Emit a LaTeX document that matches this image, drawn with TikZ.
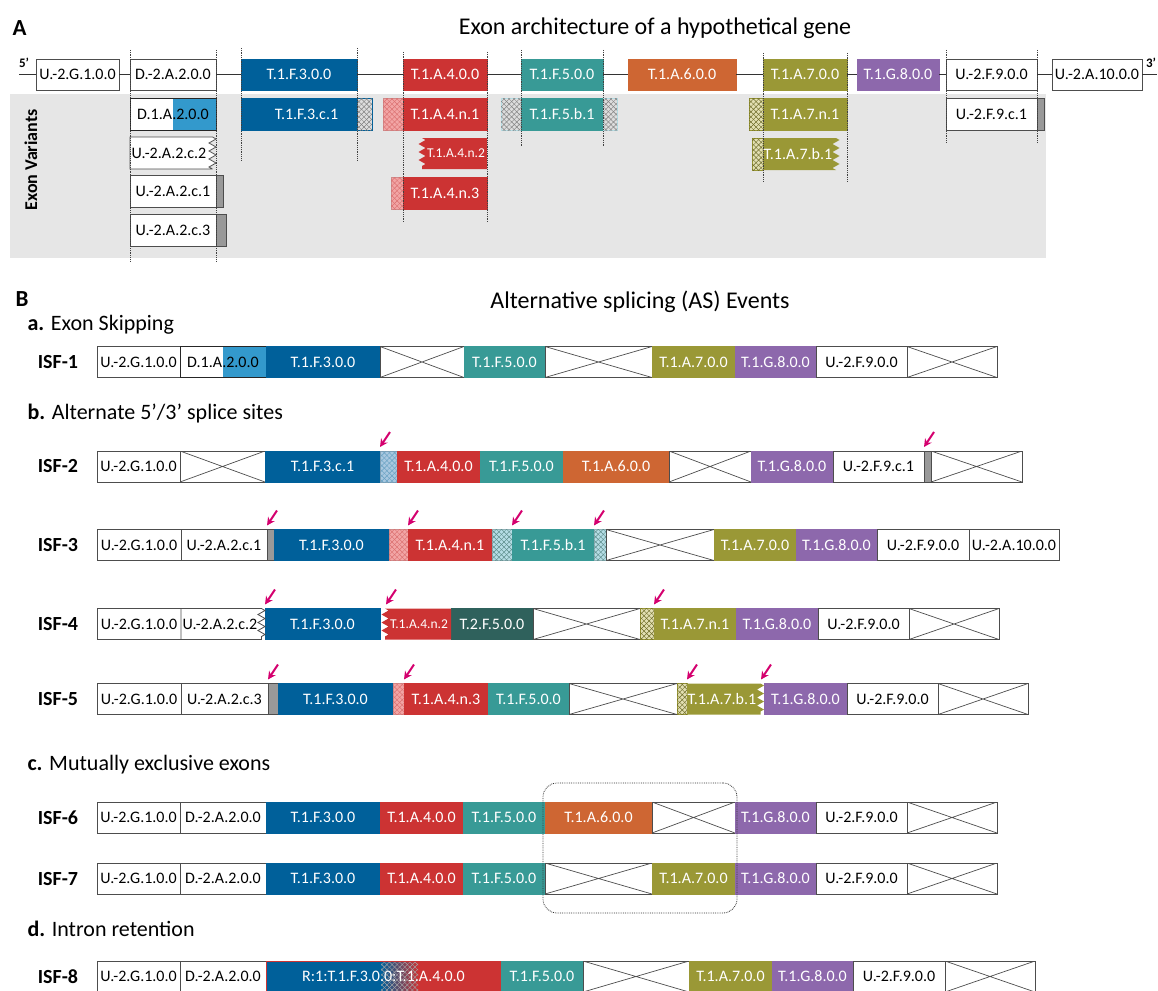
\documentclass[tikz,border=0pt]{standalone}
\usepackage{fontspec}
\setmainfont{Carlito}
\usepackage{tikz}
\usetikzlibrary{arrows.meta,patterns.meta,decorations.pathmorphing,fit}
\definecolor{tblue}{HTML}{00609A}
\definecolor{lblue}{HTML}{3399CC}
\definecolor{tred}{HTML}{CC3333}
\definecolor{tteal}{HTML}{389A96}
\definecolor{torange}{HTML}{CE6633}
\definecolor{tolive}{HTML}{9A9836}
\definecolor{tpurple}{HTML}{8D68AC}
\definecolor{dteal}{HTML}{2F615C}
\definecolor{ubar}{HTML}{999999}
\definecolor{edge}{HTML}{4D4D4D}
\definecolor{bandgray}{HTML}{E6E6E6}
\definecolor{arrowc}{HTML}{D4006E}
\definecolor{pinkh}{HTML}{F2A5A5}
\definecolor{cyanh}{HTML}{B5DDE5}
\definecolor{blueh}{HTML}{A9C8E0}
\definecolor{oliveh}{HTML}{E2DFB2}
\definecolor{greyh}{HTML}{DDDDDD}
\newcommand\lblfont{\fontsize{16}{17}\selectfont}
\tikzset{
  seg/.style={rectangle,anchor=west,minimum height=31pt,inner sep=0pt,outer sep=0pt,line width=.8pt,font=\lblfont},
  wseg/.style={fill=white,draw=edge},
  xseg/.style={fill=white,draw=edge,path picture={\draw[edge,line width=.7pt](path picture bounding box.north west)--(path picture bounding box.south east)(path picture bounding box.south west)--(path picture bounding box.north east);}},
  bseg/.style={fill=tblue,draw=tblue,text=white},
  rseg/.style={fill=tred,draw=tred,text=white},
  tseg/.style={fill=tteal,draw=tteal,text=white},
  oseg/.style={fill=torange,draw=torange,text=white},
  vseg/.style={fill=tolive,draw=tolive,text=white},
  pseg/.style={fill=tpurple,draw=tpurple,text=white},
  dtseg/.style={fill=dteal,draw=dteal,text=white},
  gbar/.style={fill=ubar,draw=edge},
  xhatch/.style={postaction={pattern={Lines[angle=45,distance=3.6pt,line width=.45pt]},pattern color=#1},
    postaction={pattern={Lines[angle=-45,distance=3.6pt,line width=.45pt]},pattern color=#1}},
  hpink/.style={fill=pinkh,draw=pinkh!85!black,xhatch=tred!70},
  hcyan/.style={fill=cyanh,draw=cyanh!80!black,xhatch=tteal!50!gray},
  hblue/.style={fill=blueh,draw=blueh!80!black,xhatch=tblue!60},
  holive/.style={fill=oliveh,draw=tolive,xhatch=tolive!70!black},
  hgrey/.style={fill=greyh,draw=gray,xhatch=gray},
  halfseg/.style={fill=white,draw=black!85,path picture={\fill[lblue]([xshift=-43pt]path picture bounding box.south east) rectangle (path picture bounding box.north east);}},
  irseg/.style={fill=tred,draw=tred,text=white,path picture={
    \fill[tblue](path picture bounding box.south west) rectangle ([xshift=115pt]path picture bounding box.north west);
    \shade[left color=tblue,right color=tred]([xshift=115pt]path picture bounding box.south west) rectangle ([xshift=152pt]path picture bounding box.north west);
    \path[xhatch=black!35]([xshift=115pt]path picture bounding box.south west) rectangle ([xshift=152pt]path picture bounding box.north west);}},
  zz/.style={decoration={zigzag,segment length=8pt,amplitude=3.5pt}},
  gline/.style={draw=black!80,line width=.8pt},
  vdot/.style={densely dotted,draw=black!75,line width=.8pt},
  splarr/.style={draw=arrowc,line width=2pt,-{Stealth[length=8pt,width=8pt]}},
  isf/.style={font=\fontsize{20}{22}\selectfont\bfseries},
  head/.style={anchor=west,font=\fontsize{22}{24}\selectfont},
  mxbox/.style={draw=black!80,densely dotted,line width=.8pt,rounded corners=14pt},
}
\newcommand\isfrow[4]{%
  \node[isf] (#1) at (58,#3) {#2};
  \foreach \xa/\xb/\kd/\lab [count=\i] in {#4}
    \node[seg,\kd,minimum width=\xb pt-\xa pt] (#1-\i) at (\xa,#3) {\lab};
}
\newcommand\splice[1]{\draw[splarr]([shift={(10,-19)}]#1)--([shift={(0,-4)}]#1);}

\begin{document}
\begin{tikzpicture}[x=1pt,y=-1pt]
\useasboundingbox (0,0) rectangle (1158,990);
%panel A
\node[anchor=west,font=\fontsize{23}{26}\selectfont\bfseries] (lA) at (9,28) {A};
\node[font=\fontsize{24}{26}\selectfont] (tA) at (655,28) {Exon architecture of a hypothetical gene};
\fill[bandgray] (10,94) rectangle (1046,258);
\node[font=\fontsize{18}{19}\selectfont\bfseries,rotate=90] (ev) at (31,160) {Exon Variants};
%gene
\foreach \xa/\xb/\kd/\lab [count=\i] in {36/119/wseg/U.-2.G.1.0.0,130/216/wseg/D.-2.A.2.0.0,241/357/bseg/T.1.F.3.0.0,403/487/rseg/T.1.A.4.0.0,521/603/tseg/T.1.F.5.0.0,628/736/oseg/T.1.A.6.0.0,763/847/vseg/T.1.A.7.0.0,857/939/pseg/T.1.G.8.0.0,946/1037/wseg/U.-2.F.9.0.0,1052/1142/wseg/U.-2.A.10.0.0}
  \node[seg,\kd,minimum width=\xb pt-\xa pt] (g\i) at (\xa,74.5) {\lab};
\coordinate (p5) at (19,74.5);
\coordinate (p3) at (1157,74.5);
\draw[gline] (p5)--(g1.west);
\foreach \i [evaluate=\i as \j using int(\i+1)] in {1,...,9}
  \draw[gline] (g\i.east)--(g\j.west);
\draw[gline] (g10.east)--(p3);
\node[font=\fontsize{13}{14}\selectfont\bfseries] (q5) at (24,63) {5’};
\node[font=\fontsize{13}{14}\selectfont\bfseries] (q3) at (1151,63) {3’};
%variants, row 1
\node[seg,halfseg,minimum height=32pt,minimum width=86pt] (v1) at (130,114) {D.1.A.2.0.0};
\node[seg,bseg,minimum height=32pt,minimum width=131pt] (v2) at (241,114) {T.1.F.3.c.1};
\node[seg,hgrey,draw=tblue,minimum height=32pt,minimum width=15pt] (v2h) at (357,114) {};
\node[seg,hpink,minimum height=32pt,minimum width=20pt] (v3h) at (383,114) {};
\node[seg,rseg,minimum height=32pt,minimum width=84pt] (v3) at (403,114) {T.1.A.4.n.1};
\node[seg,hgrey,draw=cyanh,minimum height=32pt,minimum width=20pt] (v4h) at (501,114) {};
\node[seg,tseg,minimum height=32pt,minimum width=82pt] (v4) at (521,114) {T.1.F.5.b.1};
\node[seg,hgrey,draw=cyanh,minimum height=32pt,minimum width=14pt] (v4k) at (603,114) {};
\node[seg,holive,minimum height=32pt,minimum width=14pt] (v5h) at (749,114) {};
\node[seg,vseg,minimum height=32pt,minimum width=84pt] (v5) at (763,114) {T.1.A.7.n.1};
\node[seg,wseg,minimum height=32pt,minimum width=91pt] (v6) at (946,114) {U.-2.F.9.c.1};
\node[seg,gbar,minimum height=32pt,minimum width=7pt] (v6g) at (1037,114) {};
%row 2
\path[fill=white,draw=edge,line width=.8pt] (130,137)--(212.5,137) decorate[zz]{--(212.5,169)}--(130,169)--cycle;
\node[font=\lblfont] (v7) at (169,153) {U.-2.A.2.c.2};
\path[fill=tred] (487,138)--(422,138) decorate[zz]{--(422,169)}--(487,169)--cycle;
\node[font=\fontsize{13.5}{14}\selectfont,text=white] (v8) at (456,153.5) {T.1.A.4.n.2};
\node[seg,holive,minimum height=32pt,minimum width=11pt] (v9h) at (752,154) {};
\path[fill=tolive] (763,138)--(836,138) decorate[zz]{--(836,170)}--(763,170)--cycle;
\node[font=\lblfont,text=white] (v9) at (798,154) {T.1.A.7.b.1};
%row 3
\node[seg,wseg,minimum height=32pt,minimum width=86pt] (v10) at (130,191) {U.-2.A.2.c.1};
\node[seg,gbar,minimum height=32pt,minimum width=7pt] (v10g) at (216,191) {};
\node[seg,hpink,minimum height=32pt,minimum width=12pt] (v11h) at (391,193) {};
\node[seg,rseg,minimum height=32pt,minimum width=84pt] (v11) at (403,193) {T.1.A.4.n.3};
%row 4
\node[seg,wseg,minimum height=32pt,minimum width=86pt] (v12) at (130,230) {U.-2.A.2.c.3};
\node[seg,gbar,minimum height=32pt,minimum width=10pt] (v12g) at (216,230) {};
%guides
\foreach \x/\ya/\yb in {130/50/262,216/50/262,241/48/160,357/48/160,403/52/222,487/52/222,521/50/147,603/50/147,763/53/181,847/53/181,946/50/142,1037/50/142}
  \draw[vdot] (\x,\ya)--(\x,\yb);

%panel B
\node[anchor=west,font=\fontsize{23}{26}\selectfont\bfseries] (lB) at (12,299) {B};
\node[font=\fontsize{24}{26}\selectfont] (tB) at (640,302) {Alternative splicing (AS) Events};
\node[head] (ha) at (24,325) {\textbf{a.} Exon Skipping};
\isfrow{isf1}{ISF-1}{362}{97/180/wseg/U.-2.G.1.0.0,180/266/halfseg/D.1.A.2.0.0,266/380/bseg/T.1.F.3.0.0,380/464/xseg/{},464/545/tseg/T.1.F.5.0.0,545/652/xseg/{},652/735/vseg/T.1.A.7.0.0,735/816/pseg/T.1.G.8.0.0,816/907/wseg/U.-2.F.9.0.0,907/997/xseg/{}}
\node[head] (hb) at (24,414) {\textbf{b.} Alternate 5’/3’ splice sites};
\isfrow{isf2}{ISF-2}{466.5}{97/180/wseg/U.-2.G.1.0.0,180/265/xseg/{},265/380/bseg/T.1.F.3.c.1,380/397/hblue/{},397/480/rseg/T.1.A.4.0.0,480/563/tseg/T.1.F.5.0.0,563/669/oseg/T.1.A.6.0.0,669/751/xseg/{},751/833/pseg/T.1.G.8.0.0,833/924/wseg/U.-2.F.9.c.1,924/931/gbar/{},931/1022/xseg/{}}
\splice{isf2-4.north west}
\splice{isf2-11.north west}
\isfrow{isf3}{ISF-3}{545}{97/181/wseg/U.-2.G.1.0.0,181/267/wseg/U.-2.A.2.c.1,267/274/gbar/{},274/389/bseg/T.1.F.3.0.0,389/408/hpink/{},408/492/rseg/T.1.A.4.n.1,492/512/hcyan/{},512/594/tseg/T.1.F.5.b.1,594/606/hcyan/{},606/714/xseg/{},714/796/vseg/T.1.A.7.0.0,796/877/pseg/T.1.G.8.0.0,877/969/wseg/U.-2.F.9.0.0,969/1059/wseg/U.-2.A.10.0.0}
\splice{isf3-3.north west}
\splice{isf3-6.north west}
\splice{isf3-8.north west}
\splice{isf3-9.north west}
\isfrow{isf4}{ISF-4}{624}{97/181/wseg/U.-2.G.1.0.0,265/380/bseg/T.1.F.3.0.0,451/533/dtseg/T.2.F.5.0.0,533/640/xseg/{},640/654/holive/{},654/736/vseg/T.1.A.7.n.1,736/818/pseg/T.1.G.8.0.0,818/909/wseg/U.-2.F.9.0.0,909/999/xseg/{}}
\path[fill=white,draw=edge,line width=.8pt] (181,608.5)--(261.5,608.5) decorate[zz]{--(261.5,639.5)}--(181,639.5)--cycle;
\node[font=\lblfont] (isf4-c2) at (220,624) {U.-2.A.2.c.2};
\path[fill=tred] (451,608.5)--(385,608.5) decorate[zz]{--(385,639.5)}--(451,639.5)--cycle;
\node[font=\fontsize{13.5}{14}\selectfont,text=white] (isf4-n2) at (419,624) {T.1.A.4.n.2};
\coordinate (isf4-z) at (386,608.5);
\splice{isf4-2.north west}
\splice{isf4-z}
\splice{isf4-6.north west}
\isfrow{isf5}{ISF-5}{699}{97/181/wseg/U.-2.G.1.0.0,181/268/wseg/U.-2.A.2.c.3,268/278/gbar/{},278/393/bseg/T.1.F.3.0.0,393/404/hpink/{},404/488/rseg/T.1.A.4.n.3,488/569/tseg/T.1.F.5.0.0,569/677/xseg/{},677/687/holive/{},764/847/pseg/T.1.G.8.0.0,847/938/wseg/U.-2.F.9.0.0,938/1028/xseg/{}}
\path[fill=tolive] (687,683.5)--(760.5,683.5) decorate[zz]{--(760.5,714.5)}--(687,714.5)--cycle;
\node[font=\lblfont,text=white] (isf5-b1) at (722,699) {T.1.A.7.b.1};
\coordinate (isf5-z) at (761,683.5);
\splice{isf5-3.north west}
\splice{isf5-6.north west}
\splice{isf5-9.north east}
\splice{isf5-z}
\node[head] (hc) at (24,765) {\textbf{c.} Mutually exclusive exons};
\isfrow{isf6}{ISF-6}{817.5}{97/180/wseg/U.-2.G.1.0.0,180/266/wseg/D.-2.A.2.0.0,266/380/bseg/T.1.F.3.0.0,380/463/rseg/T.1.A.4.0.0,463/545/tseg/T.1.F.5.0.0,545/652/oseg/T.1.A.6.0.0,652/735/xseg/{},735/816/pseg/T.1.G.8.0.0,816/907/wseg/U.-2.F.9.0.0,907/997/xseg/{}}
\isfrow{isf7}{ISF-7}{878.5}{97/180/wseg/U.-2.G.1.0.0,180/266/wseg/D.-2.A.2.0.0,266/380/bseg/T.1.F.3.0.0,380/463/rseg/T.1.A.4.0.0,463/545/tseg/T.1.F.5.0.0,545/652/xseg/{},652/735/vseg/T.1.A.7.0.0,735/816/pseg/T.1.G.8.0.0,816/907/wseg/U.-2.F.9.0.0,907/997/xseg/{}}
\node[mxbox,fit=(isf6-6)(isf7-7),inner xsep=2pt,inner ysep=19pt] (mx) {};
\node[head] (hd) at (24,929) {\textbf{d.} Intron retention};
\isfrow{isf8}{ISF-8}{976.5}{97/180/wseg/U.-2.G.1.0.0,180/266/wseg/D.-2.A.2.0.0,266/501/irseg/R:1:T.1.F.3.0.0:T.1.A.4.0.0,501/583/tseg/T.1.F.5.0.0,583/689/xseg/{},689/772/vseg/T.1.A.7.0.0,772/853/pseg/T.1.G.8.0.0,853/945/wseg/U.-2.F.9.0.0,945/1035/xseg/{}}
\end{tikzpicture}
\end{document}
